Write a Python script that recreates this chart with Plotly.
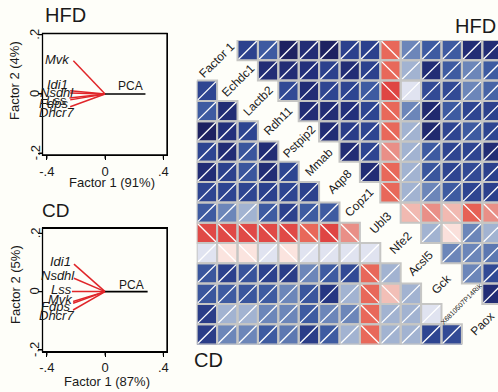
import plotly.graph_objects as go

W, H = 498, 392
BG = '#FEFEF9'
FONT = 'Liberation Sans, Arial, sans-serif'
TXT = '#1a1a1a'

# ---------------- data ----------------
genes = ['Idi1', 'Nsdhl', 'Lss', 'Mvk', 'Fdps', 'Dhcr7']
hfd_f1 = [-0.240, -0.240, -0.245, -0.218, -0.240, -0.240]
hfd_f2 = [0.011, 0.003, -0.014, 0.112, -0.020, -0.043]
cd_f1 = [-0.214, -0.214, -0.228, -0.220, -0.220, -0.220]
cd_f2 = [0.094, 0.046, 0.000, -0.034, -0.040, -0.063]
hfd_pca_len = 0.277
cd_pca_len = 0.292
x_ticks = [-0.4, 0, 0.4]
x_ticktext = ['-.4', '0', '.4']
y_ticks = [-0.2, 0, 0.2]
y_ticktext = ['-.2', '0', '.2']

variables = ['Factor 1', 'Echdc1', 'Lactb2', 'Rdh11', 'Pstpip2', 'Mmab', 'Aqp8',
             'Copz1', 'Ubl3', 'Nfe2', 'Acsl5', 'Gck', 'X6810507P14Rik', 'Paox']

# HFD correlations (upper band), row r starts at column r+2
hfd_upper = [
    [0.80, 0.65, 0.97, 0.90, 0.97, 0.80, 0.80, -0.60, 0.50, 0.65, 0.65, 0.90, 0.90],
    [0.90, 0.90, 0.88, 0.80, 0.90, 0.80, -0.60, 0.35, 0.90, 0.65, 0.50, 0.65],
    [0.75, 0.90, 0.78, 0.78, 0.65, -0.85, 0.10, 0.75, 0.75, 0.50, 0.62],
    [0.90, 0.90, 0.88, 0.78, -0.60, 0.50, 0.92, 0.65, 0.78, 0.80],
    [0.90, 0.82, 0.78, -0.60, 0.35, 0.92, 0.78, 0.65, 0.78],
    [0.90, 0.78, -0.45, 0.35, 0.65, 0.78, 0.78, 0.90],
    [0.90, -0.60, 0.35, 0.68, 0.78, 0.75, 0.80],
    [-0.60, 0.35, 0.50, 0.65, 0.78, 0.80],
    [-0.30, -0.45, -0.30, -0.65, -0.45],
    [0.35, -0.12, 0.50, 0.35],
    [0.50, 0.50, 0.55],
    [0.50, 0.75],
    [0.90],
]
# CD correlations (lower band), row r (from 2) spans columns 0..r-2
cd_lower = [
    [0.78],
    [0.65, 0.90],
    [0.97, 0.88, 0.78],
    [0.78, 0.90, 0.68, 0.90],
    [0.90, 0.80, 0.68, 0.90, 0.78],
    [0.78, 0.78, 0.78, 0.80, 0.78, 0.80],
    [0.65, 0.50, 0.35, 0.65, 0.80, 0.65, 0.65],
    [-0.82, -0.82, -0.82, -0.82, -0.82, -0.60, -0.85, -0.45],
    [0.10, -0.10, -0.10, 0.10, -0.10, 0.10, 0.10, 0.10, 0.10],
    [0.68, 0.80, 0.70, 0.80, 0.82, 0.50, 0.65, 0.75, -0.60, 0.35],
    [0.68, 0.65, 0.68, 0.65, 0.50, 0.68, 0.85, 0.35, -0.60, -0.28, 0.35],
    [0.82, 0.35, 0.35, 0.50, 0.50, 0.65, 0.50, 0.50, -0.60, 0.35, 0.35, 0.10],
    [0.82, 0.50, 0.50, 0.65, 0.55, 0.82, 0.65, 0.35, -0.60, 0.35, 0.35, 0.78, 0.75],
]

# ---------------- helpers ----------------
def px(x):
    return x / W

def py(y):
    return 1 - y / H

N = 15
z = [[None] * N for _ in range(N)]
for r, row in enumerate(hfd_upper):
    for i, v in enumerate(row):
        z[r][r + 2 + i] = v
for i, row in enumerate(cd_lower):
    r = i + 2
    for c, v in enumerate(row):
        z[r][c] = v

colorscale = [
    [0.000, '#D43535'], [0.075, '#DF4543'], [0.200, '#E8685A'], [0.275, '#E98F87'],
    [0.360, '#F2BFB7'], [0.450, '#FBE4DF'], [0.500, '#FAFAFC'], [0.550, '#E0E3F0'],
    [0.675, '#A2B3D1'], [0.750, '#6C86B9'], [0.825, '#3E5BA1'], [0.890, '#2E4591'],
    [0.940, '#23307B'], [1.000, '#1C1D58'],
]

fig = go.Figure()

# ---- PCA plots ----
def pca(f1, f2, plen, xa, ya):
    xs, ys = [], []
    for a, b in zip(f1, f2):
        xs += [0, a, None]
        ys += [0, b, None]
    fig.add_trace(go.Scatter(x=xs, y=ys, mode='lines', line=dict(color='#E0262A', width=1.5),
                             xaxis=xa, yaxis=ya, hoverinfo='skip', showlegend=False))
    fig.add_trace(go.Scatter(x=[0, plen], y=[0, 0], mode='lines', line=dict(color='black', width=1.6),
                             xaxis=xa, yaxis=ya, hoverinfo='skip', showlegend=False))

pca(hfd_f1, hfd_f2, hfd_pca_len, 'x', 'y')
pca(cd_f1, cd_f2, cd_pca_len, 'x2', 'y2')

# ---- correlation matrix ----
fig.add_trace(go.Heatmap(z=z, x=list(range(N)), y=list(range(N)), zmin=-1, zmax=1,
                         colorscale=colorscale, showscale=False, hoverinfo='skip',
                         xaxis='x3', yaxis='y3'))
e = 0.04
dx, dy, ox, oy = [], [], [], []
for r in range(N):
    for c in range(N):
        v = z[r][c]
        if v is None:
            continue
        if v >= 0:
            dx += [c - 0.5 + e, c + 0.5 - e, None]
            dy += [r + 0.5 - e, r - 0.5 + e, None]
        else:
            dx += [c - 0.5 + e, c + 0.5 - e, None]
            dy += [r - 0.5 + e, r + 0.5 - e, None]
        ox += [c - 0.5, c + 0.5, c + 0.5, c - 0.5, c - 0.5, None]
        oy += [r - 0.5, r - 0.5, r + 0.5, r + 0.5, r - 0.5, None]
fig.add_trace(go.Scatter(x=dx, y=dy, mode='lines', line=dict(color='white', width=1.3),
                         xaxis='x3', yaxis='y3', hoverinfo='skip', showlegend=False))
fig.add_trace(go.Scatter(x=ox, y=oy, mode='lines', line=dict(color='#C6C6C4', width=2),
                         xaxis='x3', yaxis='y3', hoverinfo='skip', showlegend=False))

# ---------------- layout ----------------
def pca_x(dom, anchor):
    return dict(domain=dom, range=[-0.43, 0.425], anchor=anchor, showgrid=False, zeroline=False,
                automargin=False, showline=True, mirror=True, linecolor='#000000', linewidth=1,
                ticks='outside', ticklen=4, tickwidth=1, tickcolor='#000000',
                tickvals=x_ticks, ticktext=x_ticktext, tickfont=dict(size=13, color=TXT, family=FONT))

def pca_y(dom, rng, anchor):
    return dict(domain=dom, range=rng, anchor=anchor, showgrid=False, zeroline=False,
                automargin=False, showline=True, mirror=True, linecolor='#000000', linewidth=1,
                ticks='outside', ticklen=4, tickwidth=1, tickcolor='#000000',
                tickvals=y_ticks, showticklabels=False)

xd = [px(42.5), px(167)]
fig.update_layout(
    template='none',
    width=W, height=H, autosize=False, margin=dict(l=0, r=0, t=0, b=0, pad=0, autoexpand=False),
    paper_bgcolor=BG, plot_bgcolor=BG, showlegend=False,
    font=dict(family=FONT, color=TXT),
    xaxis=pca_x(xd, 'y'),
    yaxis=pca_y([py(155), py(33.5)], [-0.206, 0.204], 'x'),
    xaxis2=pca_x(xd, 'y2'),
    yaxis2=pca_y([py(351.7), py(228.3)], [-0.206, 0.217], 'x2'),
    xaxis3=dict(domain=[px(196.7), 1], range=[-0.5, 14.27], anchor='y3', visible=False,
                automargin=False, fixedrange=True),
    yaxis3=dict(domain=[py(344.5), py(40)], range=[14.5, -0.5], anchor='x3', visible=False,
                automargin=False, fixedrange=True),
)

# frames and tick marks of the two PCA panels
for xr, yr in (('x', 'y'), ('x2', 'y2')):
    fig.add_shape(type='rect', xref=xr + ' domain', yref=yr + ' domain', x0=0, x1=1, y0=0, y1=1,
                  line=dict(color='black', width=1.3), fillcolor='rgba(0,0,0,0)', layer='above')
    for v in x_ticks:
        fig.add_shape(type='line', xref=xr, yref=yr + ' domain', x0=v, x1=v, y0=0, y1=-0.03,
                      line=dict(color='black', width=1.2), layer='above')
    for v in y_ticks:
        fig.add_shape(type='line', xref=xr + ' domain', yref=yr, x0=0, x1=-0.03, y0=v, y1=v,
                      line=dict(color='black', width=1.2), layer='above')

ann = []

def pann(text, x, y, size, angle=0, **kw):
    ann.append(dict(text=text, x=px(x), y=py(y), xref='paper', yref='paper', showarrow=False,
                    xanchor='center', yanchor='middle', textangle=angle,
                    font=dict(size=size, color=TXT), **kw))

# panel titles
pann('HFD', 65, 14.5, 20)
pann('CD', 55.5, 211, 19)
pann('HFD', 475.5, 26, 20)
pann('CD', 208, 360, 20)
# axis titles
pann('Factor 1 (91%)', 112, 182.5, 13)
pann('Factor 2 (4%)', 15, 81, 13, -90)
pann('Factor 1 (87%)', 107, 381, 13)
pann('Factor 2 (5%)', 15, 285, 13, -90)
# y tick labels (rotated, R style)
for yr in ('y', 'y2'):
    xr = 'x' if yr == 'y' else 'x2'
    for v, t in zip(y_ticks, y_ticktext):
        ann.append(dict(text=t, x=0, y=v, xref=xr + ' domain', yref=yr, xshift=-7.5,
                        showarrow=False, xanchor='center', yanchor='middle', textangle=-90,
                        font=dict(size=13, color=TXT)))
# PCA labels
ann.append(dict(text='PCA', x=0.177, y=0.0, xref='x', yref='y', yshift=8, showarrow=False,
                xanchor='center', yanchor='middle', font=dict(size=12, color=TXT)))
ann.append(dict(text='PCA', x=0.178, y=0.0, xref='x2', yref='y2', yshift=7, showarrow=False,
                xanchor='center', yanchor='middle', font=dict(size=12, color=TXT)))
# gene labels (pixel nudges only)
hfd_nudge = {'Idi1': (0, 6), 'Nsdhl': (6, 1), 'Lss': (0, -2), 'Mvk': (-1, 1), 'Fdps': (0, -4), 'Dhcr7': (6, -6)}
cd_nudge = {'Idi1': (-1, 3), 'Nsdhl': (3, 3), 'Lss': (2, 2), 'Mvk': (2, 2), 'Fdps': (-1, -3), 'Dhcr7': (3, -6)}
for g, a, b in zip(genes, hfd_f1, hfd_f2):
    sx, sy = hfd_nudge[g]
    ann.append(dict(text='<i>%s</i>' % g, x=a, y=b, xref='x', yref='y', xanchor='right',
                    yanchor='middle', xshift=sx, yshift=sy, showarrow=False,
                    font=dict(size=13, color=TXT)))
for g, a, b in zip(genes, cd_f1, cd_f2):
    sx, sy = cd_nudge[g]
    ann.append(dict(text='<i>%s</i>' % g, x=a, y=b, xref='x2', yref='y2', xanchor='right',
                    yanchor='middle', xshift=sx, yshift=sy, showarrow=False,
                    font=dict(size=13, color=TXT)))
# diagonal variable labels
for k, name in enumerate(variables):
    size = 7 if len(name) > 10 else 12
    ann.append(dict(text=name, x=k + 0.5, y=k + 0.5, xref='x3', yref='y3', showarrow=False,
                    xanchor='center', yanchor='middle', textangle=-45,
                    font=dict(size=size, color=TXT)))
fig.update_layout(annotations=ann)

fig.write_html('out.html', config={'displayModeBar': False},
               post_script="document.body.style.margin='0';document.body.style.padding='0';"
                           "document.body.style.overflow='hidden';")
